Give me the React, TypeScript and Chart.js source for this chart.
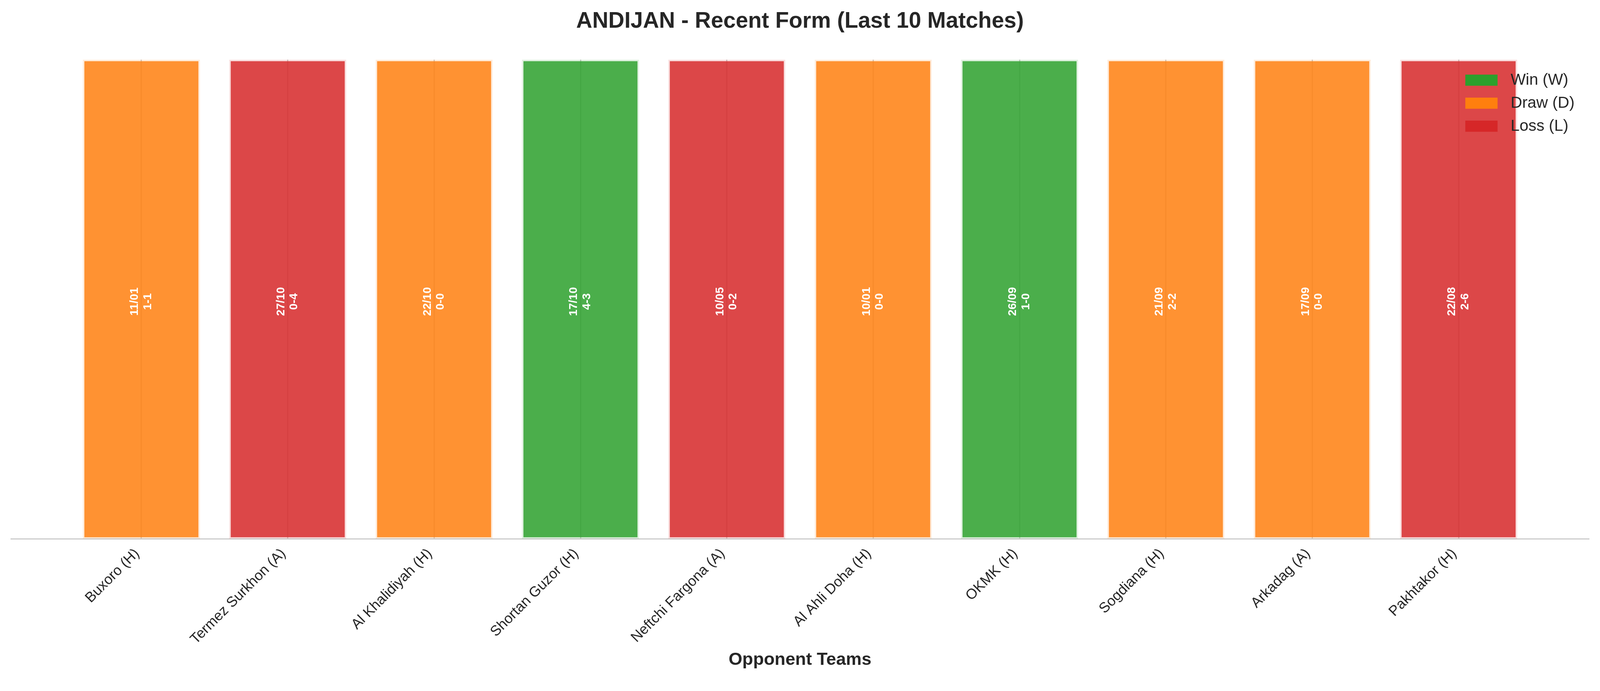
import React, { useEffect, useRef } from 'react';
import { Chart, registerables } from 'chart.js';

Chart.register(...registerables);

const chartTitle = 'ANDIJAN - Recent Form (Last 10 Matches)';
const xAxisTitle = 'Opponent Teams';

const opponents = [
  'Buxoro (H)',
  'Termez Surkhon (A)',
  'Al Khalidiyah (H)',
  'Shortan Guzor (H)',
  'Neftchi Fargona (A)',
  'Al Ahli Doha (H)',
  'OKMK (H)',
  'Sogdiana (H)',
  'Arkadag (A)',
  'Pakhtakor (H)',
];
const results = ['D', 'L', 'D', 'W', 'L', 'D', 'W', 'D', 'D', 'L'];
const matchDates = ['11/01', '27/10', '22/10', '17/10', '10/05', '10/01', '26/09', '21/09', '17/09', '22/08'];
const scores = ['1-1', '0-4', '0-0', '4-3', '0-2', '0-0', '1-0', '2-2', '0-0', '2-6'];
const barValues = [1, 1, 1, 1, 1, 1, 1, 1, 1, 1];

const legendKeys = ['W', 'D', 'L'];
const legendLabels = ['Win (W)', 'Draw (D)', 'Loss (L)'];

const resultRGB: Record<string, number[]> = {
  W: [44, 160, 44],
  D: [255, 127, 14],
  L: [214, 39, 40],
};

const FONT = '"Liberation Sans", Arial, Helvetica, sans-serif';
const TEXT = '#262626';
const REF_W = 4170;

const rgba = (c: number[], a: number) => `rgba(${c[0]},${c[1]},${c[2]},${a})`;

export default function App() {
  const canvasRef = useRef<HTMLCanvasElement | null>(null);

  useEffect(() => {
    const canvas = canvasRef.current;
    if (!canvas) return;
    const vw = window.innerWidth;
    const vh = window.innerHeight;
    const s = vw / REF_W;
    const px = (v: number) => v * s;
    canvas.width = vw;
    canvas.height = vh;
    canvas.style.width = `${vw}px`;
    canvas.style.height = `${vh}px`;

    const barLabelPlugin = {
      id: 'barLabels',
      afterDatasetsDraw(chart: any) {
        const meta = chart.getDatasetMeta(0);
        const ctx = chart.ctx;
        ctx.save();
        ctx.fillStyle = '#ffffff';
        ctx.font = `bold ${px(30)}px ${FONT}`;
        ctx.textAlign = 'center';
        ctx.textBaseline = 'middle';
        meta.data.forEach((el: any, i: number) => {
          const cy = (el.y + el.base) / 2 + px(6);
          ctx.save();
          ctx.translate(el.x, cy);
          ctx.rotate(-Math.PI / 2);
          ctx.fillText(matchDates[i], 0, -px(17));
          ctx.fillText(scores[i], 0, px(17));
          ctx.restore();
        });
        ctx.restore();
      },
    };

    const legendPlugin = {
      id: 'customLegend',
      afterDraw(chart: any) {
        const { ctx, chartArea } = chart;
        const left = chartArea.right - px(322);
        ctx.save();
        ctx.font = `${px(41.7)}px ${FONT}`;
        ctx.textAlign = 'left';
        ctx.textBaseline = 'middle';
        legendKeys.forEach((k, i) => {
          const top = chartArea.top + px(39 + i * 60);
          ctx.fillStyle = rgba(resultRGB[k], 1);
          ctx.fillRect(left, top, px(84), px(29));
          ctx.fillStyle = TEXT;
          ctx.fillText(legendLabels[i], left + px(118), top + px(15));
        });
        ctx.restore();
      },
    };

    const chart = new Chart(canvas, {
      type: 'bar',
      data: {
        datasets: [
          {
            data: barValues.map((v, i) => ({ x: i, y: v })),
            backgroundColor: results.map((r) => rgba(resultRGB[r], 0.85)),
            borderColor: results.map((r) => rgba(resultRGB[r], 0.15)),
            borderWidth: px(4),
            borderSkipped: false,
            categoryPercentage: 1,
            barPercentage: 0.8,
          } as any,
        ],
      },
      options: {
        animation: false,
        responsive: false,
        devicePixelRatio: window.devicePixelRatio || 1,
        events: [],
        layout: { padding: { left: px(29), right: px(29), top: 0, bottom: 0 } },
        plugins: {
          legend: { display: false },
          tooltip: { enabled: false },
          title: {
            display: true,
            text: chartTitle,
            color: TEXT,
            font: { family: FONT, size: px(58), weight: 'bold' },
            padding: { top: px(21), bottom: px(65) },
          },
        },
        scales: {
          x: {
            type: 'linear',
            position: 'bottom',
            offset: false,
            min: -0.89,
            max: 9.89,
            afterBuildTicks: (axis: any) => {
              axis.ticks = opponents.map((_, i) => ({ value: i }));
            },
            afterFit: (axis: any) => {
              axis.height = vh - px(1405);
              axis.paddingLeft = 0;
              axis.paddingRight = 0;
            },
            ticks: {
              autoSkip: false,
              maxRotation: 45,
              minRotation: 45,
              padding: px(17),
              labelOffset: -px(11),
              color: TEXT,
              font: { family: FONT, size: px(37.5) },
              callback: (value: any) => opponents[Number(value)] ?? '',
            },
            grid: { offset: false, color: '#cccccc', lineWidth: px(3), drawTicks: false },
            border: { display: true, color: '#cccccc', width: px(3) },
            title: {
              display: true,
              text: xAxisTitle,
              color: TEXT,
              font: { family: FONT, size: px(46), weight: 'bold' },
              padding: { top: 0, bottom: vh - px(1770) + px(21) },
            },
          },
          y: {
            display: false,
            min: 0,
            max: 1,
          },
        },
      } as any,
      plugins: [barLabelPlugin, legendPlugin],
    });
    return () => chart.destroy();
  }, []);

  return (
    <div style={{ position: 'fixed', left: 0, top: 0, right: 0, bottom: 0, background: '#ffffff', overflow: 'hidden' }}>
      <canvas ref={canvasRef} style={{ display: 'block' }} />
    </div>
  );
}
